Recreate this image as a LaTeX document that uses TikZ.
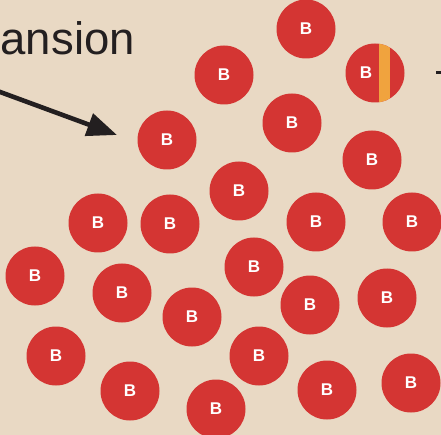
\documentclass[tikz,border=0pt]{standalone}
\usepackage{fontspec}
\setmainfont{Liberation Sans}
\usetikzlibrary{arrows.meta}
\definecolor{bg}{RGB}{233,217,196}
\definecolor{ballred}{RGB}{212,53,51}
\definecolor{stripe}{RGB}{240,163,62}
\definecolor{ink}{RGB}{35,31,32}
\tikzset{
  ball/.style={circle, fill=ballred, minimum size=59pt, inner sep=0pt, text=white,
    font=\bfseries\fontsize{17}{17}\selectfont},
  lbl/.style={inner sep=0pt, text=ink, font=\fontsize{45.5}{45.5}\selectfont},
  pointer/.style={draw=ink, line width=4.6pt, -{Triangle[length=30pt,width=23pt]}}
}
\begin{document}
\begin{tikzpicture}[x=1pt,y=-1pt]
\useasboundingbox (0,0) rectangle (441,435);
\clip (0,0) rectangle (441,435);
\fill[bg] (0,0) rectangle (441,435);
\node[lbl, anchor=base west] (label) at (0.5,54.5) {ansion};
\coordinate (from) at (-8,89);
\coordinate (to) at (117,135);
\draw[pointer] (from) -- (to);
\node[ball] (b1) at (306,29) {B};
\node[ball] (b2) at (224,75) {B};
\node[ball] (b3) at (375,73) {};
\begin{scope}
  \clip (375,73) circle (29.5pt);
  \fill[stripe] (379,40) rectangle (390,110);
\end{scope}
\node[text=white, font=\bfseries\fontsize{17}{17}\selectfont, inner sep=0pt] (b3t) at (366,73) {B};
\coordinate (tick) at (436,73);
\coordinate (tickend) at (445,73);
\draw[ink, line width=3pt] (tick) -- (tickend);
\node[ball] (b4) at (292,123) {B};
\node[ball] (b5) at (167,140) {B};
\node[ball] (b6) at (372,160) {B};
\node[ball] (b7) at (239,191) {B};
\node[ball] (b8) at (98,223) {B};
\node[ball] (b9) at (170,224) {B};
\node[ball] (b10) at (316,222) {B};
\node[ball] (b11) at (412,222) {B};
\node[ball] (b12) at (35,276) {B};
\node[ball] (b13) at (254,267) {B};
\node[ball] (b14) at (122,293) {B};
\node[ball] (b15) at (310,305) {B};
\node[ball] (b16) at (387,298) {B};
\node[ball] (b17) at (192,317) {B};
\node[ball] (b18) at (56,356) {B};
\node[ball] (b19) at (259,356) {B};
\node[ball] (b20) at (130,391) {B};
\node[ball] (b21) at (327,390) {B};
\node[ball] (b22) at (411,383) {B};
\node[ball] (b23) at (216,409) {B};
\end{tikzpicture}
\end{document}
